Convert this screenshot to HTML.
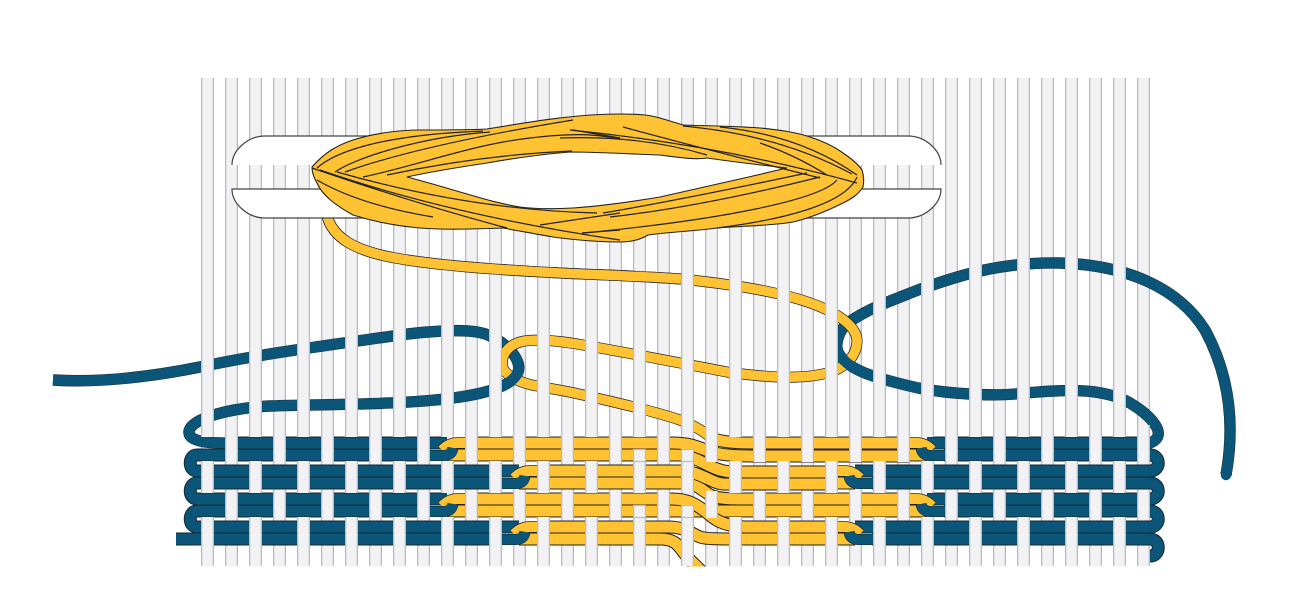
<!DOCTYPE html>
<html><head><meta charset="utf-8"><style>
html,body{margin:0;padding:0;background:#fff}
svg{display:block}
</style></head><body>
<svg xmlns="http://www.w3.org/2000/svg" width="1300" height="607" viewBox="0 0 1300 607">
<defs>
<pattern id="wA" patternUnits="userSpaceOnUse" x="201" y="0" width="48" height="10">
<rect x="0" y="0" width="13" height="10" fill="#bcbcc0"/><rect x="1.3" y="0" width="10.4" height="10" fill="#f2f2f5"/>
</pattern>
<pattern id="wB" patternUnits="userSpaceOnUse" x="225" y="0" width="48" height="10">
<rect x="0" y="0" width="13" height="10" fill="#bcbcc0"/><rect x="1.3" y="0" width="10.4" height="10" fill="#f2f2f5"/>
</pattern>
<g id="flatY">
<path d="M465 443H640M465 455H640M537 471H640M537 483H640M465 499H640M465 511H640M537 527H640M537 539H640"/>
</g>
<g id="blueFree">
<path d="M53 380C100 383 150 377 200 367C260 354 330 345 400 335C440 330 475 328 490 336C510 345 522 362 518 372C513 385 490 393 453 398C400 405 330 404 270 406C230 408 192 418 189 431C188 441 205 443 225 443H430"/>
<path d="M1226 475C1234 430 1232 380 1205 330C1180 290 1130 265 1060 263C1000 262 960 275 918 290C890 301 870 308 849 322C838 330 835 345 838 352C846 369 870 377 918 388C950 394 990 396 1015 394C1060 390 1100 386 1130 403C1150 415 1170 435 1150 443H944"/>
</g>
<g id="blueRows">
<path d="M430 455H197C188 455 188 471 197 471H502"/>
<path d="M502 483H197C188 483 188 499 197 499H430"/>
<path d="M430 511H197C188 511 188 527 197 527H502"/>
<path d="M502 539H176"/>
<path d="M944 455H1150C1161 455 1161 471 1150 471H872"/>
<path d="M872 483H1150C1161 483 1161 499 1150 499H944"/>
<path d="M944 511H1150C1161 511 1161 527 1150 527H872"/>
<path d="M872 539H1150C1161 539 1161 556 1150 556"/>
</g>
<path id="yFree" d="M327 216C333 238 355 250 390 257C430 265 500 270 560 273C600 275 640 276 681 279C730 284 790 293 823 308C845 318 858 330 857 342C856 358 843 370 823 374C800 379 770 378 727 372C690 365 640 355 583 345C560 341 535 338 520 342C506 346 500 358 503 368C507 378 525 384 537 386C552 389 567 391 583 395C610 401 650 410 680 420C695 426 703 431 709 436C716 441 728 443 752 443H909"/>
<g id="lock" fill="none">
<path d="M430 443H447" stroke="#16262e" stroke-width="13"/><path d="M430 443H447" stroke="#0b5578" stroke-width="11"/>
<path d="M465 455H447" stroke="#222" stroke-width="13"/><path d="M465 455H447" stroke="#ffc233" stroke-width="11"/>
<path d="M465 443H457C451 443 446 446 442 450" stroke="#222" stroke-width="11.5"/><path d="M465 443H457C451 443 446 446 442 450" stroke="#ffc233" stroke-width="10"/>
<path d="M430 455.5H443C449 455.5 452 453 453 448" stroke="#16262e" stroke-width="11"/><path d="M430 455.5H443C449 455.5 452 453 453 448" stroke="#0b5578" stroke-width="10"/>
</g>
</defs>
<rect width="1300" height="607" fill="#fff"/>
<rect x="201" y="78" width="949" height="488" fill="url(#wA)"/>
<rect x="201" y="78" width="949" height="488" fill="url(#wB)"/>

<g fill="none">
<use href="#blueFree" stroke="#16262e" stroke-width="11.4"/>
<use href="#blueFree" stroke="#0b5578" stroke-width="10.5"/>
<circle cx="1226" cy="475" r="5.2" fill="#0b5578"/>
<use href="#yFree" stroke="#222" stroke-width="11"/>
<use href="#yFree" stroke="#ffc233" stroke-width="9.6"/>
<path d="M518 372C513 385 490 393 453 398" stroke="#0b5578" stroke-width="10.8"/>
<path d="M838 352C846 369 870 377 918 388" stroke="#0b5578" stroke-width="10.8"/>
<use href="#blueRows" stroke="#16262e" stroke-width="13"/>
<use href="#blueRows" stroke="#0b5578" stroke-width="11"/>
<path d="M225 443H430M944 443H1137" stroke="#16262e" stroke-width="13"/>
<path d="M225 443H430M944 443H1137" stroke="#0b5578" stroke-width="11"/>
<use href="#flatY" stroke="#222" stroke-width="13"/>
<use href="#flatY" stroke="#ffc233" stroke-width="11"/>
<path d="M640 539H660C675 539 678 545 684 553C690 561 695 564 702 572" stroke="#222" stroke-width="13"/>
<path d="M640 539H660C675 539 678 545 684 553C690 561 695 564 702 572" stroke="#ffc233" stroke-width="11"/>
<path d="M640 527H668C685 527 690 533 700 537C705 539 720 539 745 539H837" stroke="#222" stroke-width="13"/>
<path d="M640 527H668C685 527 690 533 700 537C705 539 720 539 745 539H837" stroke="#ffc233" stroke-width="11"/>
<path d="M640 511H909" stroke="#222" stroke-width="13"/>
<path d="M640 511H909" stroke="#ffc233" stroke-width="11"/>
<path d="M640 499H672C690 499 698 506 706 512C714 519 722 526 745 527H837" stroke="#222" stroke-width="13"/>
<path d="M640 499H672C690 499 698 506 706 512C714 519 722 526 745 527H837" stroke="#ffc233" stroke-width="11"/>
<path d="M640 483H685C697 484 703 491 710 495C718 499 730 499 752 499H909" stroke="#222" stroke-width="13"/>
<path d="M640 483H685C697 484 703 491 710 495C718 499 730 499 752 499H909" stroke="#ffc233" stroke-width="11"/>
<path d="M640 471H680C695 471 705 478 715 482C722 485 728 484 745 484H837" stroke="#222" stroke-width="13"/>
<path d="M640 471H680C695 471 705 478 715 482C722 485 728 484 745 484H837" stroke="#ffc233" stroke-width="11"/>
<path d="M640 455H680C695 456 705 465 717 469C725 472 730 472 745 472H837" stroke="#222" stroke-width="13"/>
<path d="M640 455H680C695 456 705 465 717 469C725 472 730 472 745 472H837" stroke="#ffc233" stroke-width="11"/>
<path d="M640 443H672C690 443 698 447 708 451C716 454 730 456 752 456H909" stroke="#222" stroke-width="13"/>
<path d="M640 443H672C690 443 698 447 708 451C716 454 730 456 752 456H909" stroke="#ffc233" stroke-width="11"/>
<path d="M709 436C716 441 728 443 752 443H909" stroke="#222" stroke-width="13"/>
<path d="M709 436C716 441 728 443 752 443H909" stroke="#ffc233" stroke-width="11"/>
</g>
<use href="#lock"/>
<use href="#lock" transform="translate(72 28)"/>
<use href="#lock" transform="translate(0 56)"/>
<use href="#lock" transform="translate(72 84)"/>
<use href="#lock" transform="translate(1374 0) scale(-1 1)"/>
<use href="#lock" transform="translate(1302 28) scale(-1 1)"/>
<use href="#lock" transform="translate(1374 56) scale(-1 1)"/>
<use href="#lock" transform="translate(1302 84) scale(-1 1)"/>

<rect x="201" y="78" width="949" height="359" fill="url(#wA)"/>
<rect x="201" y="461" width="949" height="32" fill="url(#wA)"/>
<rect x="201" y="517" width="949" height="49" fill="url(#wA)"/>
<rect x="225" y="425" width="925" height="37" fill="url(#wB)"/>
<rect x="225" y="491" width="925" height="27" fill="url(#wB)"/>
<g fill="#f2f2f5" stroke="#bcbcc0" stroke-width="1.2">
<rect x="633.6" y="449.5" width="11.8" height="12"/><rect x="681.6" y="449.5" width="11.8" height="12"/>
<rect x="633.6" y="505.5" width="11.8" height="12"/><rect x="681.6" y="505.5" width="11.8" height="12"/>
</g>
<rect x="0" y="566.5" width="1300" height="41" fill="#fff"/>

<path d="M327 216C333 238 355 250 390 257C430 265 500 270 560 273C600 275 640 276 681 279" fill="none" stroke="#222" stroke-width="11"/>
<path d="M327 216C333 238 355 250 390 257C430 265 500 270 560 273C600 275 640 276 681 279" fill="none" stroke="#ffc233" stroke-width="9.6"/>

<path d="M232 165C232 150 248 136 265 136H908C925 136 941 150 941 165Z" fill="#fff"/>
<path d="M232 165C232 150 248 136 265 136H908C925 136 941 150 941 165" fill="none" stroke="#444" stroke-width="1.2"/>
<path d="M232 189H941C941 204 925 218 908 218H265C248 218 232 204 232 189Z" fill="#fff" stroke="#444" stroke-width="1.2"/>

<path fill="#fff" d="M407 177C430 172 460 167 487 163C515 158 545 154 570 152C600 152 630 154 660 155C675 157 695 160 707 158C735 162 760 165 787 168C745 178 705 187 660 197C630 202 600 206 573 208C555 209 535 209 520 207C495 203 475 196 453 190C437 185 422 181 407 177Z"/>
<path fill-rule="evenodd" fill="#ffc233" stroke="#222" stroke-width="1.1" d="M312 167C325 152 338 145 353 140C375 133 400 130 420 130C445 130 465 130 487 129C530 122 575 114 620 114C640 114 650 115 660 118C670 121 677 123 683 125C710 126 735 126 760 128C780 130 795 132 810 137C825 142 835 147 843 153C852 159 858 164 862 170C864 176 864 182 863 187C858 195 851 199 843 203C825 212 810 218 793 222C770 226 740 226 717 228C695 231 670 232 648 235C640 240 630 242 620 242C600 242 575 240 553 237C535 234 520 231 503 228C475 229 445 230 420 228C395 226 372 221 353 215C335 205 322 195 317 183C314 178 312 172 312 167Z
M407 177C430 172 460 167 487 163C515 158 545 154 570 152C600 152 630 154 660 155C675 157 695 160 707 158C735 162 760 165 787 168C745 178 705 187 660 197C630 202 600 206 573 208C555 209 535 209 520 207C495 203 475 196 453 190C437 185 422 181 407 177Z"/>
<g fill="none" stroke="#222" stroke-width="1.2">
<path d="M317 168C335 152 380 135 483 131"/>
<path d="M335 172C355 158 420 137 490 132"/>
<path d="M345 172Q420 145 573 120"/>
<path d="M363 177C420 165 470 145 530 138S600 137 620 138"/>
<path d="M387 175Q480 155 572 151"/>
<path d="M573 130L620 138"/>
<path d="M312 168Q420 205 507 228"/>
<path d="M320 170Q450 215 620 240"/>
<path d="M337 172Q470 210 597 213"/>
<path d="M317 180Q360 205 433 217"/>
<path d="M540 225L620 213"/>
<path d="M582 233L620 230"/>
<path d="M857 175Q800 135 720 127"/>
<path d="M852 174Q780 135 683 126"/>
<path d="M857 183Q720 145 570 130"/>
<path d="M827 175Q795 155 760 143"/>
<path d="M820 178Q700 148 623 127"/>
<path d="M560 138Q640 135 707 155"/>
<path d="M807 173Q680 200 603 213"/>
<path d="M820 177Q700 207 610 217"/>
<path d="M837 180C820 200 720 220 583 233"/>
<path d="M857 177C845 205 780 220 717 228"/>
</g>
</svg>
</body></html>
